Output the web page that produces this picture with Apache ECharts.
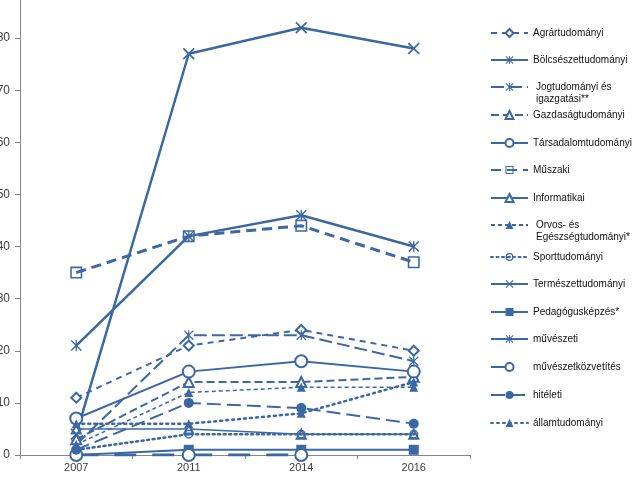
<!DOCTYPE html>
<html><head><meta charset="utf-8">
<script src="https://cdn.jsdelivr.net/npm/echarts@6/dist/echarts.min.js"></script>
<style>html,body{margin:0;padding:0;background:#fff}#c{width:636px;height:478px}</style>
</head><body><div id="c"></div>
<script>
// ---- data ----
const categories = ['2007', '2011', '2014', '2016'];
const yMin = 0, yMax = 90, yStep = 10;

const agrar        = [11, 21, 24, 20];
const bolcsesz     = [21, 42, 46, 40];
const jog          = [2, 23, 23, 18];
const gazdasag     = [3, 14, 14, 15];
const tarsadalom   = [7, 16, 18, 16];
const muszaki      = [35, 42, 44, 37];
const informatikai = [5, 5, 4, 4];
const orvos        = [2, 12, 13, 13];
const sport        = [1, 4, 4, 4];
const termeszet    = [4, 77, 82, 78];
const pedagogus    = [0, 1, 1, 1];
const muveszeti    = [0, null, null, null];
const muvkozv      = [0, 0, 0, null];
const hiteleti     = [1, 10, 9, 6];
const allam        = [6, 6, 8, 14];

const names = [
  'Agrártudományi', 'Bölcsészettudományi', 'Jogtudományi és igazgatási**',
  'Gazdaságtudományi', 'Társadalomtudományi', 'Műszaki', 'Informatikai',
  'Orvos- és Egészségtudományi*', 'Sporttudományi', 'Természettudományi',
  'Pedagógusképzés*', 'művészeti', 'művészetközvetítés', 'hitéleti', 'államtudományi'
];
const legendLabels = [
  'Agrártudományi', 'Bölcsészettudományi', ' \nJogtudományi és\nigazgatási**',
  'Gazdaságtudományi', 'Társadalomtudományi', 'Műszaki', 'Informatikai',
  ' \nOrvos- és\nEgészségtudományi*', 'Sporttudományi', 'Természettudományi',
  'Pedagógusképzés*', 'művészeti', 'művészetközvetítés', 'hitéleti', 'államtudományi'
];
const values = [agrar, bolcsesz, jog, gazdasag, tarsadalom, muszaki, informatikai,
  orvos, sport, termeszet, pedagogus, muveszeti, muvkozv, hiteleti, allam];

// ---- styles ----
const C = '#3b68a4';
const X_PATH = 'path://M1,0L5,4L9,0L10,1L6,5L10,9L9,10L5,6L1,10L0,9L4,5L0,1Z';
const AST_PATH = 'path://M4.4,0L5.6,0L5.6,10L4.4,10ZM0,0.9L0.9,0L10,9.1L9.1,10ZM9.1,0L10,0.9L0.9,10L0,9.1Z';
const SQ_RING = 'path://M0,0L10,0L10,10L0,10ZM1.3,1.3L1.3,8.7L8.7,8.7L8.7,1.3Z';
const SPORT_PATH = 'path://M5,0A5,5,0,1,1,4.99,0ZM5,1.6A3.4,3.4,0,1,0,5.01,1.6ZM5,3.3A1.7,1.7,0,1,1,4.99,3.3Z';

const styles = [
  {sym: 'emptyDiamond', size: 10, w: 2, type: [6, 5]},
  {sym: AST_PATH, size: 11, w: 2.5, type: 'solid'},
  {sym: AST_PATH, size: 10, w: 2, type: [13, 5]},
  {sym: 'emptyTriangle', size: 10, w: 2, type: [8, 4]},
  {sym: 'emptyCircle', size: 12, w: 2, type: 'solid'},
  {sym: SQ_RING, size: 12, w: 3, type: [10, 6]},
  {sym: 'emptyTriangle', size: 9, w: 1.5, type: 'solid'},
  {sym: 'triangle', size: 9, w: 1.5, type: [4, 3]},
  {sym: SPORT_PATH, size: 9, w: 2.5, type: [2, 3.5]},
  {sym: X_PATH, size: 12, w: 2.5, type: 'solid'},
  {sym: 'rect', size: 10, w: 2, type: 'solid'},
  {sym: AST_PATH, size: 10, w: 3, type: 'solid'},
  {sym: 'emptyCircle', size: 12, w: 3, type: [22, 16]},
  {sym: 'circle', size: 10, w: 2, type: [14, 6]},
  {sym: 'triangle', size: 9, w: 2.5, type: [2, 4]}
];
const legendY = [33, 60, 87, 115, 143, 170, 198, 225, 257, 284, 312, 339, 367, 395, 423];

const series = names.map((n, i) => ({
  name: n,
  type: 'line',
  data: values[i],
  symbol: styles[i].sym,
  symbolSize: styles[i].size,
  showAllSymbol: true,
  connectNulls: false,
  itemStyle: {color: C, borderWidth: 0},
  lineStyle: {color: C, width: styles[i].w, type: styles[i].type, cap: (styles[i].type instanceof Array && styles[i].type[0] <= 2) ? 'round' : 'butt'},
  emphasis: {disabled: true},
  z: 2
}));

const legends = names.map((n, i) => {
  const multi = legendLabels[i].indexOf('\n') >= 0;
  return {
    data: [n],
    left: 490,
    top: legendY[i] - (multi ? 18 : 6),
    padding: 0,
    itemWidth: 37,
    itemHeight: 10,
    selectedMode: false,
    formatter: () => legendLabels[i],
    textStyle: {
      fontSize: 10, color: '#111', fontFamily: 'Liberation Sans, Arial, sans-serif',
      lineHeight: 12, padding: multi ? [0, 0, 0, 3] : 0
    }
  };
});

const chart = echarts.init(document.getElementById('c'), null, {renderer: 'canvas'});
chart.setOption({
  animation: false,
  backgroundColor: '#fff',
  grid: {left: 20, right: 166, top: -14, bottom: 23, outerBoundsMode: 'none', containLabel: false},
  xAxis: {
    type: 'category', data: categories, boundaryGap: true,
    axisLine: {lineStyle: {color: '#868686', width: 1}},
    axisTick: {show: true, length: 4, lineStyle: {color: '#868686'}},
    axisLabel: {margin: 7, fontSize: 11, color: '#404040', fontFamily: 'Liberation Sans, Arial, sans-serif'}
  },
  yAxis: {
    type: 'value', min: yMin, max: yMax, interval: yStep,
    axisLine: {show: true, lineStyle: {color: '#868686', width: 1}},
    axisTick: {show: true, length: 5, lineStyle: {color: '#868686'}},
    splitLine: {show: false},
    axisLabel: {margin: 10, fontSize: 12, color: '#404040', fontFamily: 'Liberation Sans, Arial, sans-serif'}
  },
  legend: legends,
  series: series
});
</script></body></html>
